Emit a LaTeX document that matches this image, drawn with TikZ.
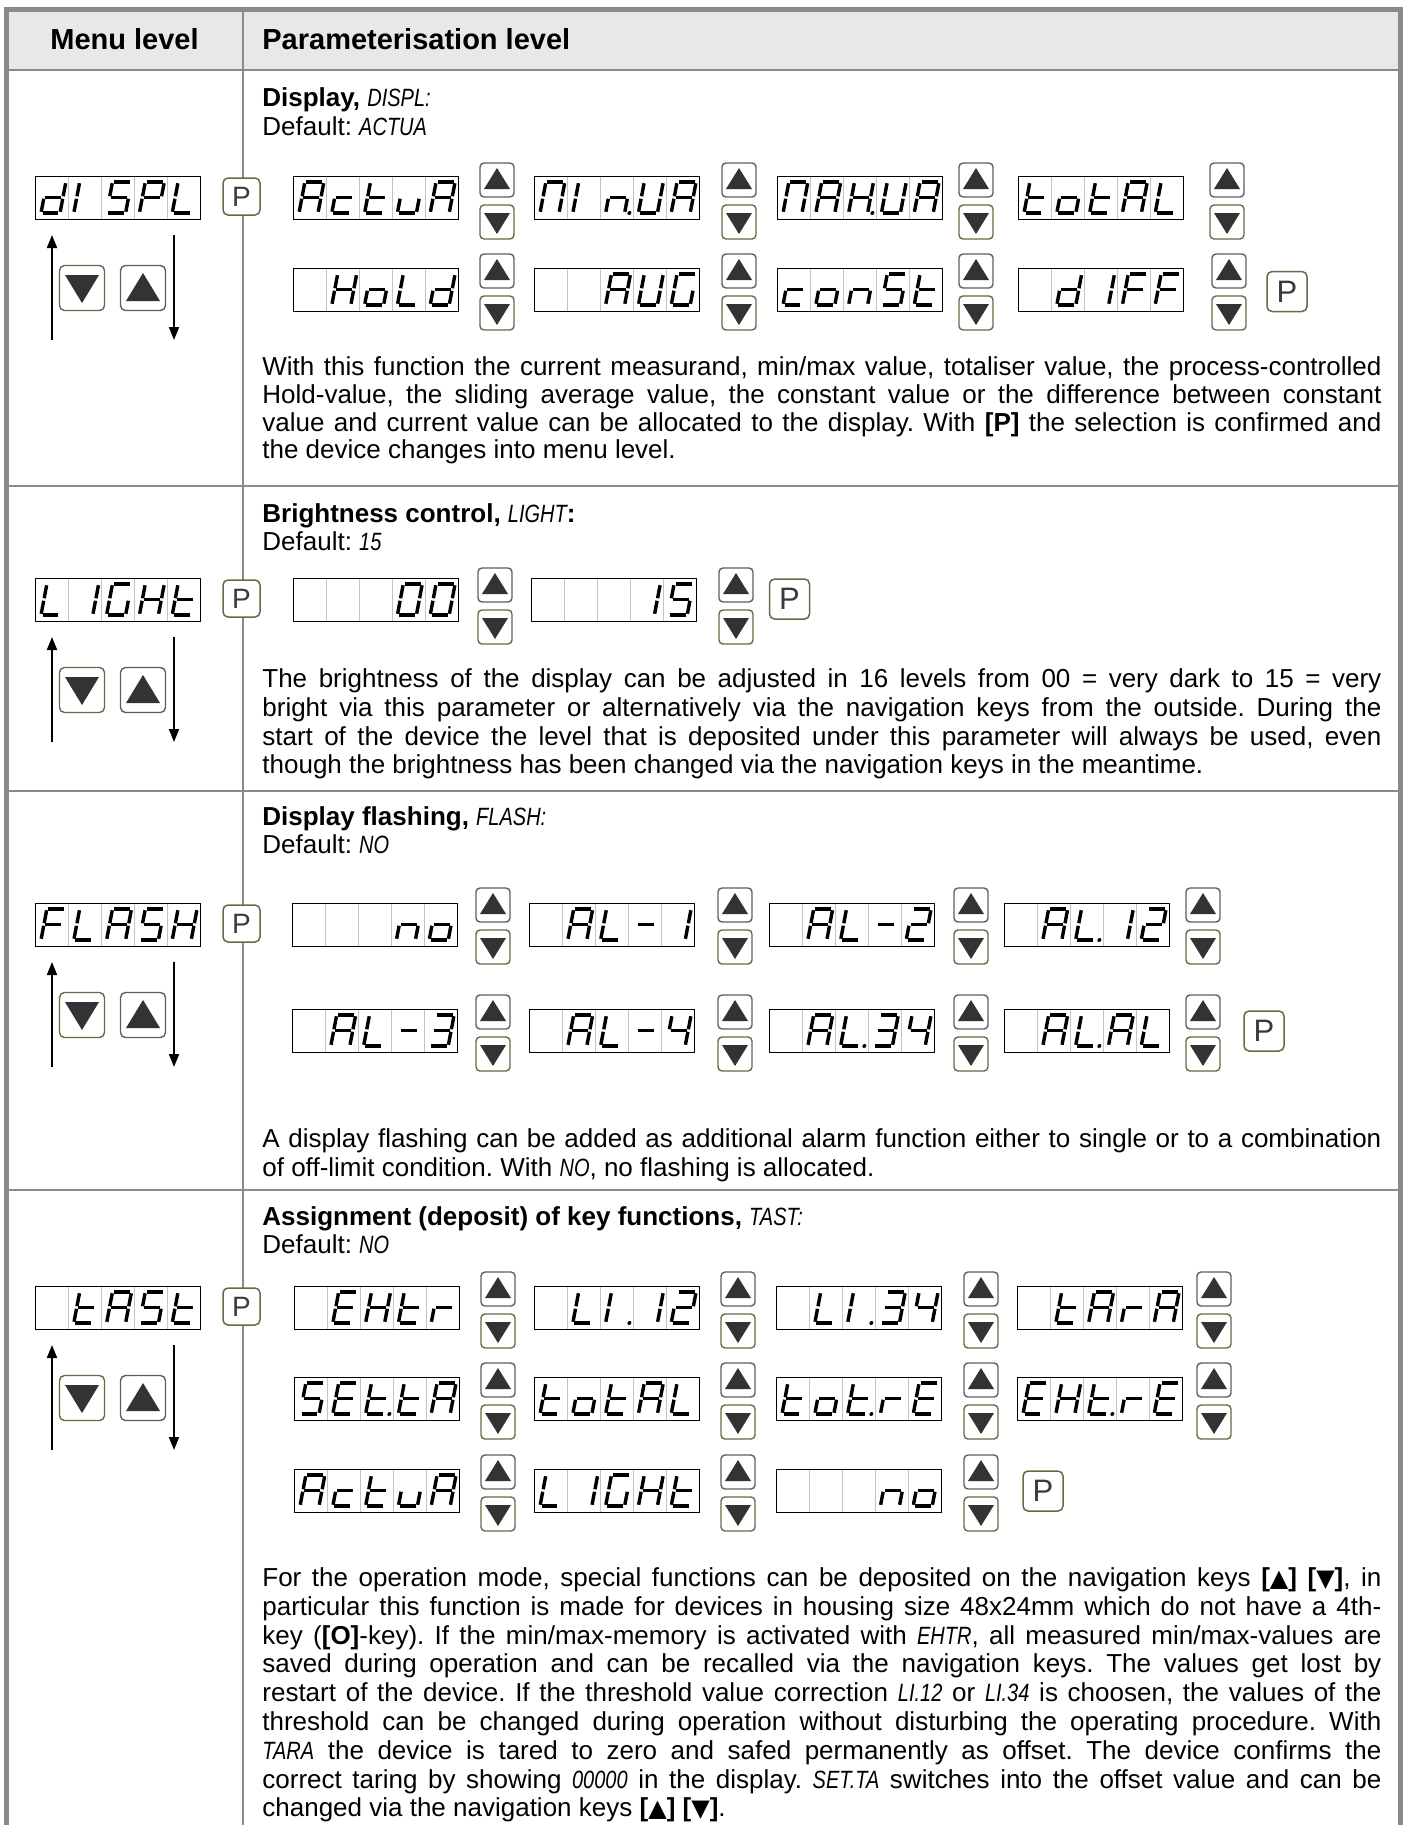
\documentclass[tikz,border=0pt]{standalone}
\usepackage{fontspec}
\setmainfont{Liberation Sans}
\newfontfamily\symf{DejaVu Sans}
\usepackage{graphicx}
\usetikzlibrary{arrows.meta}
\frenchspacing
\definecolor{framegray}{HTML}{8A8A8A}
\definecolor{headbg}{HTML}{E8E8E8}
\definecolor{celgray}{HTML}{C4C4C4}
\definecolor{upgray}{HTML}{5E5E5E}
\definecolor{dnolive}{HTML}{6A6848}
\definecolor{tridark}{HTML}{333333}
\definecolor{ptext}{HTML}{3A3A3A}
\tikzset{
  outerframe/.style={draw=framegray, line width=2.5pt},
  gridline/.style={draw=framegray, line width=1.4pt},
  dispnode/.style={inner sep=0pt, minimum width=82pt, minimum height=21pt},
  dispframe/.style={draw=black, line width=0.65pt},
  celldiv/.style={draw=celgray, line width=0.5pt},
  seg/.style={line width=1.7pt, line cap=butt},
  upbtnstyle/.style={draw=upgray, line width=0.7pt, rounded corners=2pt, fill=white, minimum size=17pt, inner sep=0pt},
  dnbtnstyle/.style={draw=dnolive, line width=0.7pt, rounded corners=2pt, fill=white, minimum size=17pt, inner sep=0pt},
  mupstyle/.style={upbtnstyle, minimum size=22.5pt, rounded corners=2.5pt},
  mdnstyle/.style={dnbtnstyle, minimum size=22.5pt, rounded corners=2.5pt},
  pbtnstyle/.style={draw=dnolive, line width=0.75pt, rounded corners=2.5pt, fill=white, inner sep=0pt, text=ptext},
  tri/.style={fill=tridark},
  navarrow/.style={draw=black, line width=1pt, -{Triangle[length=6.5pt,width=5pt]}},
  txt/.style={anchor=base west, inner sep=0pt},
}
% seven segment definitions (local units: x=char width, y=char height)
\expandafter\def\csname sg@a\endcsname{\draw[seg] (0.08,1) -- (0.92,1);}
\expandafter\def\csname sg@b\endcsname{\draw[seg] (1,0.96) -- (1,0.54);}
\expandafter\def\csname sg@c\endcsname{\draw[seg] (1,0.46) -- (1,0.04);}
\expandafter\def\csname sg@d\endcsname{\draw[seg] (0.08,0) -- (0.92,0);}
\expandafter\def\csname sg@e\endcsname{\draw[seg] (0,0.46) -- (0,0.04);}
\expandafter\def\csname sg@f\endcsname{\draw[seg] (0,0.96) -- (0,0.54);}
\expandafter\def\csname sg@g\endcsname{\draw[seg] (0.08,0.5) -- (0.92,0.5);}
\expandafter\def\csname sg@p\endcsname{\fill (1.25,0) circle[radius=1pt];}
\expandafter\def\csname sg@z\endcsname{}
\newcommand\defsegch[2]{\expandafter\def\csname ch@#1\endcsname{#2}}
\defsegch{A}{a,b,c,e,f,g}
\defsegch{c}{d,e,g}
\defsegch{t}{d,e,f,g}
\defsegch{u}{c,d,e}
\defsegch{U}{b,c,d,e,f}
\defsegch{n}{c,e,g}
\defsegch{o}{c,d,e,g}
\defsegch{d}{b,c,d,e,g}
\defsegch{Il}{e,f}
\defsegch{Ir}{b,c}
\defsegch{S}{a,f,g,c,d}
\defsegch{P}{a,b,e,f,g}
\defsegch{L}{d,e,f}
\defsegch{H}{b,c,e,f,g}
\defsegch{M}{a,b,c,e,f}
\defsegch{G}{a,c,d,e,f}
\defsegch{E}{a,d,e,f,g}
\defsegch{F}{a,e,f,g}
\defsegch{r}{e,g}
\defsegch{0}{a,b,c,d,e,f}
\defsegch{1}{b,c}
\defsegch{2}{a,b,g,e,d}
\defsegch{3}{a,b,g,c,d}
\defsegch{4}{f,g,b,c}
\defsegch{5}{a,f,g,c,d}
\defsegch{-}{g}
\defsegch{x}{z}
\defsegch{np}{c,e,g,p}
\defsegch{Hp}{b,c,e,f,g,p}
\defsegch{Lp}{d,e,f,p}
\defsegch{tp}{d,e,f,g,p}
\defsegch{Ilp}{e,f,p}
% display: name, left x, top y, chars
\newcommand\segdisplay[4]{%
  \node[dispnode] (#1) at (#2+82,#3+21) {};
  \foreach \kk in {1,2,3,4}{\draw[celldiv] (#2+\kk*32.8,#3) -- (#2+\kk*32.8,#3+42);}
  \draw[dispframe] (#1.north west) rectangle (#1.south east);
  \foreach \cc [count=\ii from 0] in {#4}{%
    \expandafter\let\expandafter\seglist\csname ch@\cc\endcsname
    \begin{scope}[shift={(#2+\ii*32.8+5,#3+36)}, x=9.5pt, y=15.5pt, xslant=0.19]
      \foreach \sgl in \seglist {\csname sg@\sgl\endcsname}
    \end{scope}
  }%
}
\newcommand\mkupbtn[3]{%
  \node[upbtnstyle] (#1) at (#2,#3) {};
  \fill[tri] ([shift={(-13,9)}]#1.center) -- ([shift={(13,9)}]#1.center) -- ([shift={(0,-12)}]#1.center) -- cycle;}
\newcommand\mkdnbtn[3]{%
  \node[dnbtnstyle] (#1) at (#2,#3) {};
  \fill[tri] ([shift={(-13,-9)}]#1.center) -- ([shift={(13,-9)}]#1.center) -- ([shift={(0,12)}]#1.center) -- cycle;}
\newcommand\btnpair[3]{\mkupbtn{#1u}{#2+17}{#3-21}\mkdnbtn{#1d}{#2+17}{#3+21}}
\newcommand\pbtn[3]{\node[pbtnstyle, minimum size=20pt, font=\fontsize{15.5}{15.5}\selectfont] (#1) at (#2,#3) {P};}
\newcommand\menugroup[3]{%
  \segdisplay{#1disp}{36}{#2}{#3}
  \node[pbtnstyle, minimum size=18.5pt, font=\fontsize{14}{14}\selectfont] (#1P) at (241.5,#2+19.5) {P};
  \coordinate (#1ua) at (52,#2+163);
  \coordinate (#1ub) at (52,#2+58);
  \draw[navarrow] (#1ua) -- (#1ub);
  \coordinate (#1da) at (174,#2+58);
  \coordinate (#1db) at (174,#2+163);
  \draw[navarrow] (#1da) -- (#1db);
  \node[mdnstyle] (#1bd) at (82,#2+111) {};
  \fill[tri] ([shift={(-17,-13)}]#1bd.center) -- ([shift={(17,-13)}]#1bd.center) -- ([shift={(0,15)}]#1bd.center) -- cycle;
  \node[mupstyle] (#1bu) at (143,#2+111) {};
  \fill[tri] ([shift={(-17,13)}]#1bu.center) -- ([shift={(17,13)}]#1bu.center) -- ([shift={(0,-15)}]#1bu.center) -- cycle;
}
\newcommand\segtxt[1]{\scalebox{0.8}[1]{\fontsize{12.5}{14}\selectfont\mdseries\itshape #1}}
\newcommand\uptri{{\symf\fontsize{12}{14}\selectfont ▲}}
\newcommand\dntri{{\symf\fontsize{12}{14}\selectfont ▼}}
\newcommand\jline[3]{\node[txt] (#1) at (262,#2) {\makebox[559.5pt][s]{#3}};}
\newcommand\lline[3]{\node[txt] (#1) at (262,#2) {#3};}
\begin{document}
\begin{tikzpicture}[x=0.5pt, y=-0.5pt, font=\fontsize{13}{15}\selectfont]
\useasboundingbox (0,0) rectangle (1405,1825);
% header background and table lines
\fill[headbg] (9,12) rectangle (1398,69);
\draw[gridline] (9,70) -- (1398,70);
\draw[gridline] (243,12) -- (243,1825);
\draw[gridline] (9,486) -- (1398,486);
\draw[gridline] (9,791) -- (1398,791);
\draw[gridline] (9,1190) -- (1398,1190);
\draw[outerframe] (6.5,1825) -- (6.5,9.5) -- (1400,9.5) -- (1400,1825);
% header texts
\node[anchor=base] (hmenu) at (124.5,50) {\fontsize{14.5}{16}\selectfont\bfseries Menu level};
\node[txt] (hparam) at (262,50) {\fontsize{14.5}{16}\selectfont\bfseries Parameterisation level};

% ---------- Row 1: DISPL ----------
\menugroup{m1}{177}{d,Il,S,P,L}
\node[txt] (r1title) at (262,106) {\textbf{Display, }\segtxt{DISPL:}};
\node[txt] (r1def) at (262,135) {Default: \segtxt{ACTUA}};
\segdisplay{r1a}{294}{177}{A,c,t,u,A}  \btnpair{r1pa}{480}{201}
\segdisplay{r1b}{535}{177}{M,Il,np,U,A} \btnpair{r1pb}{722}{201}
\segdisplay{r1c}{778}{177}{M,A,Hp,U,A} \btnpair{r1pc}{959}{201}
\segdisplay{r1d}{1019}{177}{t,o,t,A,L} \btnpair{r1pd}{1210}{201}
\segdisplay{r1e}{294}{269}{x,H,o,L,d}  \btnpair{r1pe}{480}{292}
\segdisplay{r1f}{535}{269}{x,x,A,U,G}  \btnpair{r1pf}{722}{292}
\segdisplay{r1g}{778}{269}{c,o,n,S,t}  \btnpair{r1pg}{959}{292}
\segdisplay{r1h}{1019}{269}{x,d,Ir,F,F} \btnpair{r1ph}{1212}{292}
\pbtn{r1P}{1287}{291.5}
\jline{r1l1}{375}{With this function the current measurand, min/max value, totaliser value, the process-controlled}
\jline{r1l2}{403}{Hold-value, the sliding average value, the constant value or the difference between constant}
\jline{r1l3}{431}{value and current value can be allocated to the display. With \textbf{[P]} the selection is confirmed and}
\lline{r1l4}{458}{the device changes into menu level.}

% ---------- Row 2: LIGHT ----------
\menugroup{m2}{579}{L,Ir,G,H,t}
\node[txt] (r2title) at (262,522) {\textbf{Brightness control, }\segtxt{LIGHT}\textbf{:}};
\node[txt] (r2def) at (262,550) {Default: \segtxt{15}};
\segdisplay{r2a}{294}{579}{x,x,x,0,0} \btnpair{r2pa}{478}{606}
\segdisplay{r2b}{532}{579}{x,x,x,1,5} \btnpair{r2pb}{719}{606}
\pbtn{r2P}{789.5}{599}
\jline{r2l1}{687}{The brightness of the display can be adjusted in 16 levels from 00 = very dark to 15 = very}
\jline{r2l2}{716}{bright via this parameter or alternatively via the navigation keys from the outside. During the}
\jline{r2l3}{745}{start of the device the level that is deposited under this parameter will always be used, even}
\lline{r2l4}{773}{though the brightness has been changed via the navigation keys in the meantime.}

% ---------- Row 3: FLASH ----------
\menugroup{m3}{904}{F,L,A,S,H}
\node[txt] (r3title) at (262,825) {\textbf{Display flashing, }\segtxt{FLASH:}};
\node[txt] (r3def) at (262,853) {Default: \segtxt{NO}};
\segdisplay{r3a}{293}{904}{x,x,x,n,o}   \btnpair{r3pa}{476}{926}
\segdisplay{r3b}{530}{904}{x,A,L,-,1}   \btnpair{r3pb}{718}{926}
\segdisplay{r3c}{770}{904}{x,A,L,-,2}   \btnpair{r3pc}{954}{926}
\segdisplay{r3d}{1005}{904}{x,A,Lp,1,2} \btnpair{r3pd}{1186}{926}
\segdisplay{r3e}{293}{1010}{x,A,L,-,3}  \btnpair{r3pe}{476}{1033}
\segdisplay{r3f}{530}{1010}{x,A,L,-,4}  \btnpair{r3pf}{718}{1033}
\segdisplay{r3g}{770}{1010}{x,A,Lp,3,4} \btnpair{r3pg}{954}{1033}
\segdisplay{r3h}{1005}{1010}{x,A,Lp,A,L} \btnpair{r3ph}{1186}{1033}
\pbtn{r3P}{1264}{1031}
\jline{r3l1}{1147}{A display flashing can be added as additional alarm function either to single or to a combination}
\lline{r3l2}{1176}{of off-limit condition. With \segtxt{NO}, no flashing is allocated.}

% ---------- Row 4: TAST ----------
\menugroup{m4}{1287}{x,t,A,S,t}
\node[txt] (r4title) at (262,1225) {\textbf{Assignment (deposit) of key functions, }\segtxt{TAST:}};
\node[txt] (r4def) at (262,1253) {Default: \segtxt{NO}};
\segdisplay{r4a}{295}{1287}{x,E,H,t,r}   \btnpair{r4pa}{481}{1310}
\segdisplay{r4b}{535}{1287}{x,L,Ilp,1,2} \btnpair{r4pb}{721}{1310}
\segdisplay{r4c}{777}{1287}{x,L,Ilp,3,4} \btnpair{r4pc}{964}{1310}
\segdisplay{r4d}{1018}{1287}{x,t,A,r,A}  \btnpair{r4pd}{1197}{1310}
\segdisplay{r4e}{295}{1378}{S,E,tp,t,A}  \btnpair{r4pe}{481}{1401}
\segdisplay{r4f}{535}{1378}{t,o,t,A,L}   \btnpair{r4pf}{721}{1401}
\segdisplay{r4g}{777}{1378}{t,o,tp,r,E}  \btnpair{r4pg}{964}{1401}
\segdisplay{r4h}{1018}{1378}{E,H,tp,r,E} \btnpair{r4ph}{1197}{1401}
\segdisplay{r4i}{295}{1470}{A,c,t,u,A}   \btnpair{r4pi}{481}{1493}
\segdisplay{r4j}{535}{1470}{L,Ir,G,H,t}  \btnpair{r4pj}{721}{1493}
\segdisplay{r4k}{777}{1470}{x,x,x,n,o}   \btnpair{r4pk}{964}{1493}
\pbtn{r4P}{1043}{1491}
\jline{r4l1}{1586}{For the operation mode, special functions can be deposited on the navigation keys \textbf{[}\uptri\textbf{]} \textbf{[}\dntri\textbf{]}, in}
\jline{r4l2}{1615}{particular this function is made for devices in housing size 48x24mm which do not have a 4th-}
\jline{r4l3}{1644}{key (\textbf{[O]}-key). If the min/max-memory is activated with \segtxt{EHTR}, all measured min/max-values are}
\jline{r4l4}{1672}{saved during operation and can be recalled via the navigation keys. The values get lost by}
\jline{r4l5}{1701}{restart of the device. If the threshold value correction \segtxt{LI.12} or \segtxt{LI.34} is choosen, the values of the}
\jline{r4l6}{1730}{threshold can be changed during operation without disturbing the operating procedure. With}
\jline{r4l7}{1759}{\segtxt{TARA} the device is tared to zero and safed permanently as offset. The device confirms the}
\jline{r4l8}{1788}{correct taring by showing \segtxt{00000} in the display. \segtxt{SET.TA} switches into the offset value and can be}
\lline{r4l9}{1816}{changed via the navigation keys \textbf{[}\uptri\textbf{]} \textbf{[}\dntri\textbf{]}.}
\end{tikzpicture}
\end{document}
